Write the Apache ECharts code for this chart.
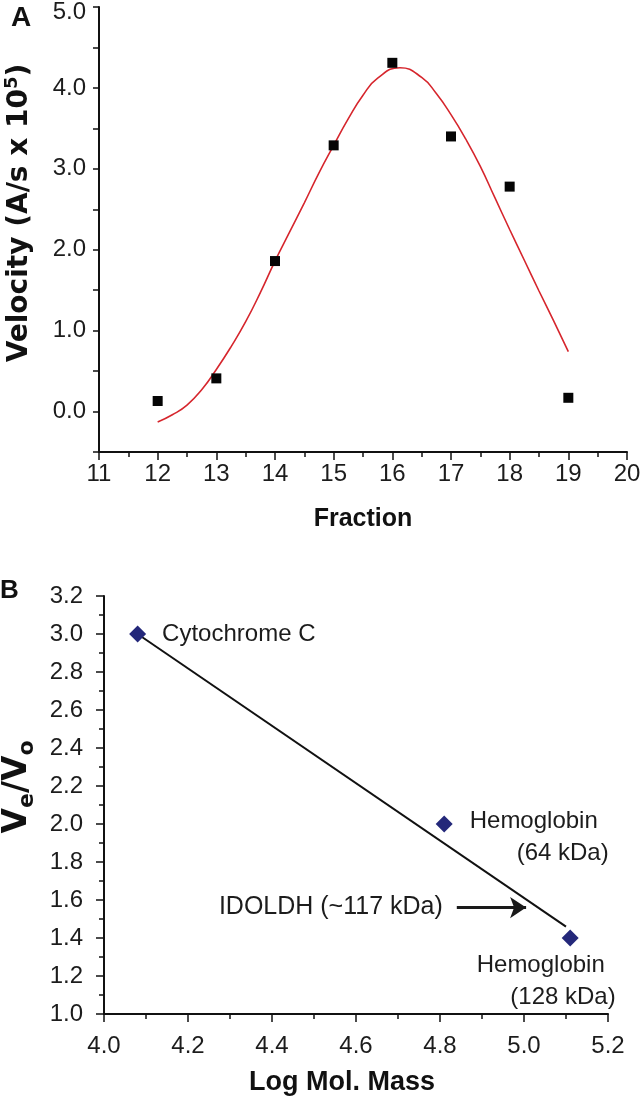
<!DOCTYPE html>
<html><head><meta charset="utf-8">
<script src="https://cdn.jsdelivr.net/npm/echarts@6/dist/echarts.min.js"></script>
<style>html,body{margin:0;padding:0;background:#fff}#c{width:643px;height:1097px}</style>
</head><body><div id="c"></div>
<script>
// Panel A
const fractions = [12, 13, 14, 15, 16, 17, 18, 19];
const velocity = [0.13, 0.41, 1.86, 3.29, 4.31, 3.40, 2.78, 0.17];
const fitFraction = [12, 12.25, 12.5, 12.75, 13, 13.25, 13.5, 13.75, 14, 14.25, 14.5, 14.75, 15, 15.25, 15.5, 15.75,
                     16.13, 16.5, 16.75, 17, 17.25, 17.5, 17.75, 18, 18.25, 18.5, 18.75, 19];
const fitVelocity = [-0.13, -0.04, 0.08, 0.27, 0.52, 0.80, 1.11, 1.47, 1.86, 2.22, 2.58, 2.95, 3.29, 3.62, 3.91, 4.12,
                     4.25, 4.13, 3.93, 3.67, 3.37, 3.03, 2.64, 2.25, 1.87, 1.49, 1.12, 0.74];
// Panel B
const proteins = ['Cytochrome C', 'Hemoglobin (64 kDa)', 'Hemoglobin (128 kDa)'];
const logMass = [4.08, 4.81, 5.11];
const veVo = [3.0, 2.0, 1.4];
const fitLogMass = [4.08, 5.10];
const fitVeVo = [3.0, 1.46];
const arrowLogMass = [4.84, 5.005];
const arrowVeVo = 1.56;
const arrowLabel = 'IDOLDH (~117 kDa)';

const TICK_FONT = 'Liberation Sans';
const ink = '#111111';
const txt = '#1c1c1c';
const fmt1 = v => v.toFixed(1);

const chart = echarts.init(document.getElementById('c'), null, {renderer: 'canvas'});

const axisCommon = {
  type: 'value',
  splitLine: {show: false},
  minorSplitLine: {show: false},
  axisLine: {onZero: false, lineStyle: {color: ink, width: 2}},
  axisTick: {length: 8, lineStyle: {color: ink, width: 1.5}},
  minorTick: {show: true, splitNumber: 2, length: 5, lineStyle: {color: ink, width: 1.5}},
  axisLabel: {fontFamily: TICK_FONT, fontSize: 24, color: txt}
};

const option = {
  animation: false,
  backgroundColor: '#fff',
  grid: [
    {left: 99, top: 7, width: 528, height: 445, containLabel: false, outerBoundsMode: 'none'},
    {left: 104, top: 596, width: 504, height: 418, containLabel: false, outerBoundsMode: 'none'}
  ],
  graphic: [
    {type: 'text', left: 11, top: 4, style: {text: 'A', font: 'bold 28px "Liberation Sans"', fill: ink}},
    {type: 'text', left: 0, top: 578, style: {text: 'B', font: 'bold 26px "Liberation Sans"', fill: ink}}
  ],
  xAxis: [
    Object.assign({}, axisCommon, {
      gridIndex: 0, min: 11, max: 20, interval: 1,
      axisLabel: Object.assign({}, axisCommon.axisLabel, {margin: 10}),
      name: 'Fraction', nameLocation: 'middle', nameGap: 55,
      nameTextStyle: {fontFamily: 'Liberation Sans', fontWeight: 'bold', fontSize: 25, color: ink}
    }),
    Object.assign({}, axisCommon, {
      gridIndex: 1, min: 4.0, max: 5.2, interval: 0.2,
      axisLabel: Object.assign({}, axisCommon.axisLabel, {margin: 20, formatter: fmt1}),
      name: 'Log Mol. Mass', nameLocation: 'middle', nameGap: 55,
      nameTextStyle: {fontFamily: 'Liberation Sans', fontWeight: 'bold', fontSize: 27, color: ink, padding: [0, 28, 0, 0]}
    })
  ],
  yAxis: [
    Object.assign({}, axisCommon, {
      gridIndex: 0, min: -0.5, max: 5.0, interval: 0.5,
      axisTick: {length: 6, lineStyle: {color: ink, width: 1.5}},
      minorTick: {show: false},
      axisLabel: Object.assign({}, axisCommon.axisLabel, {
        margin: 13,
        formatter: v => {
          if (Math.abs(v - Math.round(v)) > 1e-6) return '';
          return v >= 5 ? '{top|' + v.toFixed(1) + '}' : v.toFixed(1);
        },
        rich: {top: {fontFamily: TICK_FONT, fontSize: 24, color: txt, padding: [10, 0, 0, 0]}}
      }),
      name: '{b|Velocity (A/s x 10}{s|5}{b|)}', nameLocation: 'middle', nameGap: 62,
      nameTextStyle: {
        padding: [0, 0, 0, 33],
        rich: {
          b: {fontFamily: 'DejaVu Sans', fontWeight: 'bold', fontSize: 28, color: ink},
          s: {fontFamily: 'DejaVu Sans', fontWeight: 'bold', fontSize: 18, color: ink, verticalAlign: 'top', lineHeight: 34}
        }
      }
    }),
    Object.assign({}, axisCommon, {
      gridIndex: 1, min: 1.0, max: 3.2, interval: 0.2,
      axisLabel: Object.assign({}, axisCommon.axisLabel, {margin: 21, formatter: fmt1}),
      name: '{V|V}{s|e}{V|/V}{s|o}', nameLocation: 'middle', nameGap: 62,
      nameTextStyle: {
        padding: [0, 0, 0, 36],
        rich: {
          V: {fontFamily: 'DejaVu Sans', fontWeight: 'bold', fontSize: 33, color: ink},
          s: {fontFamily: 'DejaVu Sans', fontWeight: 'bold', fontSize: 22, color: ink, verticalAlign: 'bottom', lineHeight: 42}
        }
      }
    })
  ],
  series: [
    {
      type: 'line', xAxisIndex: 0, yAxisIndex: 0,
      data: fitFraction.map((x, i) => [x, fitVelocity[i]]),
      smooth: 0.5, showSymbol: false, silent: true,
      lineStyle: {color: '#d6262d', width: 1.6}, z: 2
    },
    {
      type: 'scatter', xAxisIndex: 0, yAxisIndex: 0,
      data: fractions.map((x, i) => [x, velocity[i]]),
      symbol: 'rect', symbolSize: 10,
      itemStyle: {color: '#050505', opacity: 1}, z: 3
    },
    {
      type: 'line', xAxisIndex: 1, yAxisIndex: 1,
      data: fitLogMass.map((x, i) => [x, fitVeVo[i]]),
      showSymbol: false, silent: true,
      lineStyle: {color: ink, width: 2}, z: 2,
      markLine: {
        silent: true, animation: false,
        symbol: ['none', 'arrow'], symbolSize: 16,
        lineStyle: {color: '#1a1a1a', width: 3, type: 'solid', opacity: 1},
        label: {
          show: true, position: 'start', distance: 14,
          formatter: arrowLabel,
          fontFamily: 'Liberation Sans', fontSize: 25, color: txt
        },
        data: [[{coord: [arrowLogMass[0], arrowVeVo]}, {coord: [arrowLogMass[1], arrowVeVo]}]]
      }
    },
    {
      type: 'scatter', xAxisIndex: 1, yAxisIndex: 1,
      symbol: 'diamond', symbolSize: 17,
      itemStyle: {color: '#24287a', opacity: 1}, z: 3,
      label: {show: true, fontFamily: 'Liberation Sans', fontSize: 24, color: txt},
      data: logMass.map((x, i) => {
        const item = {value: [x, veVo[i]], name: proteins[i]};
        if (i === 0) {
          item.label = {position: 'right', distance: 16, formatter: 'Cytochrome C', color: txt};
        } else {
          const parts = proteins[i].split(' (');
          item.label = {
            formatter: '{l|' + parts[0] + '}\n{r|(' + parts[1] + '}',
            width: 139,
            rich: {
              l: {align: 'left', lineHeight: 32, fontFamily: 'Liberation Sans', fontSize: 24, color: txt},
              r: {align: 'right', lineHeight: 32, fontFamily: 'Liberation Sans', fontSize: 24, color: txt}
            }
          };
          if (i === 1) {
            Object.assign(item.label, {position: 'right', distance: 17, offset: [0, 13]});
          } else {
            Object.assign(item.label, {position: 'bottom', distance: 3, offset: [-24, 0]});
          }
        }
        return item;
      })
    }
  ]
};
chart.setOption(option);
</script>
</body></html>
